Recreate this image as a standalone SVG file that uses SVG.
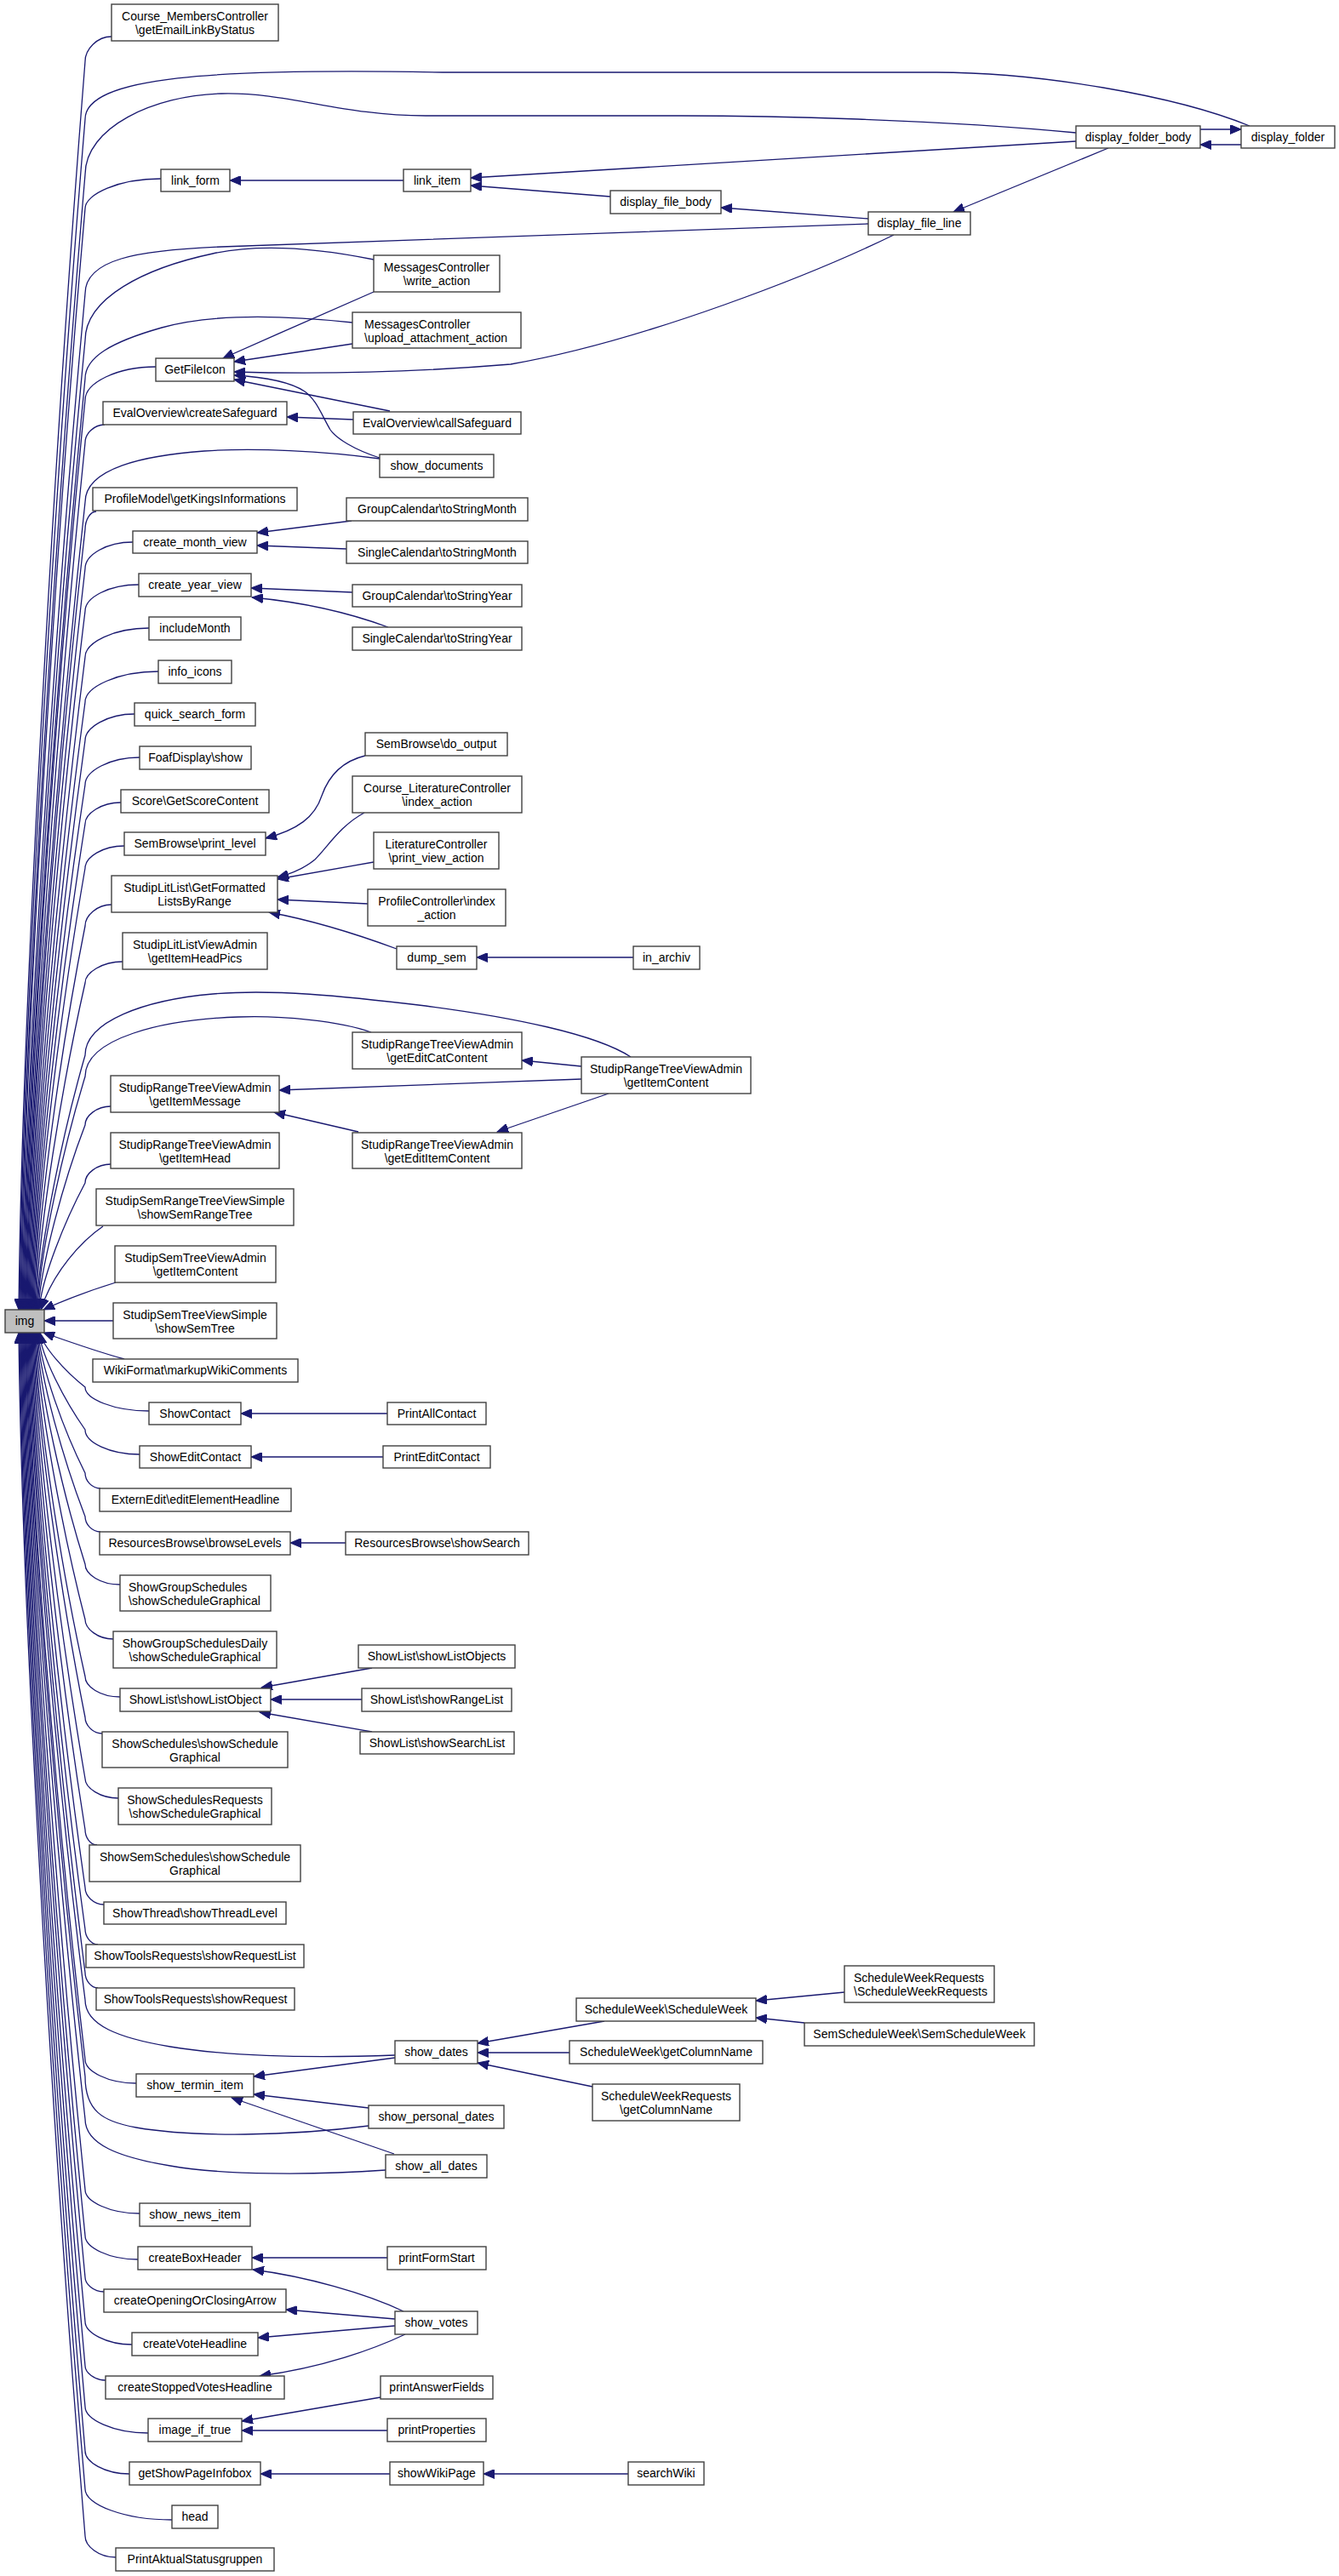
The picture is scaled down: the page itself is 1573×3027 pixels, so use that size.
<svg xmlns="http://www.w3.org/2000/svg" width="1573" height="3027" viewBox="0 0 1573 3027">
<style>
.node rect{fill:#ffffff;stroke:#404040;stroke-width:1.4}
.node text{font-family:"Liberation Sans",Arial,sans-serif;font-size:14px;fill:#000000;text-anchor:middle}
.node text.l{text-anchor:start}
#n_img rect{fill:#bfbfbf}
.edge path{fill:none;stroke:#191970;stroke-width:1.3;marker-end:url(#arr)}
</style>
<defs>
<marker id="arr" markerWidth="14" markerHeight="11" refX="13" refY="5.5" orient="auto" markerUnits="userSpaceOnUse"><path d="M0,0 L13,5.5 L0,11 z" fill="#191970" stroke="#191970" stroke-width="1"/></marker>
</defs>
<rect x="0" y="0" width="1573" height="3027" fill="#ffffff"/>
<g id="connectors" class="edge">
<path d="M131,43 C114,43 100,58 100,72 C65,512 26,1172 22,1539"/>
<path d="M1468,148 C1380,112 1220,85 1100,85 L520,85 C250,80 100,90 100,140 C65,560 27,1189 23,1539"/>
<path d="M1264,156 C1100,140 900,136 800,136 L500,136 C400,136 340,108 260,110 C180,112 100,150 100,205 C66,605 28,1205 24,1539"/>
<path d="M189,210 C140,210 100,228 100,245 C66,633 29,1215 25,1539"/>
<path d="M1020,263 L260,290 C160,294 100,305 100,345 C67,703 30,1241 26,1539"/>
<path d="M439,305 C380,293 310,285 250,298 C170,315 100,350 100,400 C67,742 31,1254 27,1539"/>
<path d="M414,379 C330,370 250,368 190,385 C130,402 100,420 100,445 C68,773 32,1265 28,1539"/>
<path d="M183,431 C137,431 100,450 100,470 C68,791 33,1272 29,1539"/>
<path d="M123,499 C110,499 100,510 100,520 C69,826 34,1284 30,1539"/>
<path d="M446,539 C380,530 300,526 240,530 C170,535 100,550 100,590 C69,875 34,1302 31,1539"/>
<path d="M113,601 C106,601 100,611 100,622 C69,897 35,1310 32,1539"/>
<path d="M156,637 C125,637 100,652 100,668 C70,929 36,1321 33,1539"/>
<path d="M163,687 C128,687 100,702 100,718 C70,964 37,1334 34,1539"/>
<path d="M175,738 C134,738 100,755 100,772 C71,1002 38,1347 35,1539"/>
<path d="M186,789 C139,789 100,807 100,825 C71,1039 39,1361 36,1539"/>
<path d="M158,839 C126,839 100,855 100,870 C72,1071 40,1372 37,1539"/>
<path d="M164,890 C129,890 100,906 100,922 C72,1107 41,1385 38,1539"/>
<path d="M142,943 C119,943 100,956 100,968 C73,1139 42,1396 39,1539"/>
<path d="M146,994 C121,994 100,1007 100,1020 C73,1176 43,1409 40,1539"/>
<path d="M131,1063 C114,1063 100,1076 100,1088 C73,1223 44,1426 41,1539"/>
<path d="M144,1130 C120,1130 100,1143 100,1155 C74,1270 45,1443 42,1539"/>
<path d="M741,1242 C700,1215 600,1195 500,1182 C400,1170 320,1162 250,1168 C170,1175 100,1200 100,1240 C74,1330 46,1464 43,1539"/>
<path d="M436,1213 C400,1200 330,1193 280,1195 C190,1198 100,1220 100,1265 C75,1347 47,1470 44,1539"/>
<path d="M130,1300 C114,1300 100,1311 100,1322 C75,1387 48,1485 45,1539"/>
<path d="M130,1368 C114,1368 100,1379 100,1390 C76,1435 49,1502 46,1539"/>
<path d="M121,1441 C96,1458 62,1495 48,1539"/>
<path d="M136,1507 C110,1515 75,1528 51,1539"/>
<path d="M133,1552 L52,1552"/>
<path d="M136,3005 C116,3005 100,2992 100,2980 C65,2556 26,1920 22,1566"/>
<path d="M202,2961 C146,2961 100,2943 100,2925 C65,2517 27,1906 23,1566"/>
<path d="M152,2907 C123,2907 100,2893 100,2880 C66,2486 28,1895 24,1566"/>
<path d="M174,2859 C133,2859 100,2843 100,2828 C66,2449 29,1882 25,1566"/>
<path d="M124,2797 C111,2797 100,2788 100,2780 C67,2416 30,1870 26,1566"/>
<path d="M155,2755 C125,2755 100,2741 100,2728 C67,2379 31,1857 27,1566"/>
<path d="M122,2693 C110,2693 100,2684 100,2676 C68,2343 32,1844 28,1566"/>
<path d="M162,2655 C128,2655 100,2641 100,2627 C68,2309 33,1831 29,1566"/>
<path d="M164,2601 C129,2601 100,2587 100,2573 C69,2271 34,1818 30,1566"/>
<path d="M453,2550 C370,2556 260,2556 200,2545 C140,2535 100,2520 100,2490 C69,2213 34,1797 31,1566"/>
<path d="M433,2498 C340,2510 230,2512 160,2500 C120,2493 100,2480 100,2440 C69,2178 35,1785 32,1566"/>
<path d="M160,2448 C127,2448 100,2434 100,2420 C70,2164 36,1780 33,1566"/>
<path d="M464,2415 C380,2418 280,2418 200,2405 C140,2395 100,2380 100,2350 C70,2115 37,1762 34,1566"/>
<path d="M115,2336 C107,2336 100,2327 100,2318 C71,2092 38,1754 35,1566"/>
<path d="M115,2285 C107,2285 100,2276 100,2267 C71,2057 39,1741 36,1566"/>
<path d="M122,2238 C110,2238 100,2228 100,2218 C72,2022 40,1729 37,1566"/>
<path d="M114,2168 C106,2168 100,2159 100,2150 C72,1975 41,1712 38,1566"/>
<path d="M139,2113 C118,2113 100,2101 100,2090 C73,1933 42,1697 39,1566"/>
<path d="M120,2037 C109,2037 100,2027 100,2018 C73,1882 43,1679 40,1566"/>
<path d="M141,1994 C118,1994 100,1982 100,1970 C73,1849 44,1667 41,1566"/>
<path d="M133,1926 C115,1926 100,1914 100,1903 C74,1802 45,1650 42,1566"/>
<path d="M141,1862 C118,1862 100,1850 100,1838 C74,1756 46,1634 43,1566"/>
<path d="M118,1800 C108,1800 100,1791 100,1782 C75,1717 47,1620 44,1566"/>
<path d="M118,1749 C108,1749 100,1740 100,1731 C75,1681 48,1607 45,1566"/>
<path d="M164,1709 C129,1709 100,1695 100,1680 C76,1646 49,1594 46,1566"/>
<path d="M175,1658 C134,1658 100,1644 100,1630 C76,1611 50,1582 47,1566"/>
<path d="M146,1597 C120,1590 85,1578 51,1566"/>
<path d="M1410,152 L1458,152"/>
<path d="M1458,170 L1410,170"/>
<path d="M1264,166 L553,209"/>
<path d="M717,231 L553,218"/>
<path d="M474,212 L270,212"/>
<path d="M1020,257 L847,244"/>
<path d="M1302,174 L1120,249"/>
<path d="M1050,276 C960,320 760,400 600,428 C480,438 380,440 275,437"/>
<path d="M439,343 C390,365 320,395 262,421"/>
<path d="M414,404 L275,425"/>
<path d="M458,483 L275,446"/>
<path d="M446,538 C415,528 395,515 388,505 C378,488 372,470 358,460 C340,448 310,443 275,441"/>
<path d="M415,493 L337,490"/>
<path d="M413,612 L302,626"/>
<path d="M407,645 L302,641"/>
<path d="M414,696 L295,691"/>
<path d="M456,737 C410,720 360,708 296,702"/>
<path d="M429,888 C400,895 385,915 378,935 C370,960 350,975 312,985"/>
<path d="M428,955 C400,970 385,995 370,1010 C358,1020 345,1026 326,1031"/>
<path d="M439,1013 L326,1033"/>
<path d="M432,1062 L326,1057"/>
<path d="M466,1115 C420,1098 370,1082 316,1072"/>
<path d="M744,1125 L560,1125"/>
<path d="M683,1253 L613,1246"/>
<path d="M683,1268 L328,1281"/>
<path d="M715,1285 L584,1330"/>
<path d="M421,1330 L322,1307"/>
<path d="M455,1661 L283,1661"/>
<path d="M450,1712 L295,1712"/>
<path d="M406,1813 L341,1813"/>
<path d="M437,1960 L307,1983"/>
<path d="M425,1997 L318,1997"/>
<path d="M437,2035 L305,2012"/>
<path d="M992,2341 L888,2351"/>
<path d="M945,2377 L888,2371"/>
<path d="M710,2375 L561,2401"/>
<path d="M669,2412 L561,2412"/>
<path d="M696,2452 L561,2424"/>
<path d="M464,2418 L298,2440"/>
<path d="M433,2477 L298,2461"/>
<path d="M463,2531 L272,2465"/>
<path d="M455,2653 L296,2653"/>
<path d="M474,2716 C430,2695 360,2675 297,2667"/>
<path d="M464,2725 L336,2714"/>
<path d="M464,2733 L303,2747"/>
<path d="M476,2743 C440,2760 380,2782 305,2792"/>
<path d="M447,2817 L284,2845"/>
<path d="M455,2856 L284,2856"/>
<path d="M458,2907 L306,2907"/>
<path d="M738,2907 L568,2907"/>
</g>
<g id="n_course_members" class="node"><rect x="131" y="5" width="196" height="43"/><text x="229" y="24">Course_MembersController</text><text x="229" y="40">\getEmailLinkByStatus</text></g>
<g id="n_display_folder_body" class="node"><rect x="1264" y="148" width="146" height="26"/><text x="1337" y="166">display_folder_body</text></g>
<g id="n_display_folder" class="node"><rect x="1458" y="148" width="110" height="26"/><text x="1513" y="166">display_folder</text></g>
<g id="n_link_form" class="node"><rect x="189" y="199" width="81" height="26"/><text x="229.5" y="217">link_form</text></g>
<g id="n_link_item" class="node"><rect x="474" y="199" width="79" height="26"/><text x="513.5" y="217">link_item</text></g>
<g id="n_display_file_body" class="node"><rect x="717" y="224" width="130" height="27"/><text x="782" y="242">display_file_body</text></g>
<g id="n_display_file_line" class="node"><rect x="1020" y="249" width="120" height="27"/><text x="1080" y="267">display_file_line</text></g>
<g id="n_write_action" class="node"><rect x="439" y="300" width="148" height="43"/><text x="513" y="319">MessagesController</text><text x="513" y="335">\write_action</text></g>
<g id="n_upload" class="node"><rect x="414" y="367" width="198" height="42"/><text class="l" x="428" y="386">MessagesController</text><text class="l" x="428" y="402">\upload_attachment_action</text></g>
<g id="n_getfileicon" class="node"><rect x="183" y="421" width="92" height="27"/><text x="229" y="439">GetFileIcon</text></g>
<g id="n_create_safeguard" class="node"><rect x="121" y="472" width="216" height="27"/><text x="229" y="490">EvalOverview\createSafeguard</text></g>
<g id="n_call_safeguard" class="node"><rect x="415" y="484" width="197" height="26"/><text x="513.5" y="502">EvalOverview\callSafeguard</text></g>
<g id="n_show_documents" class="node"><rect x="446" y="534" width="134" height="27"/><text x="513" y="552">show_documents</text></g>
<g id="n_profilemodel" class="node"><rect x="109" y="573" width="240" height="27"/><text x="229" y="591">ProfileModel\getKingsInformations</text></g>
<g id="n_gc_month" class="node"><rect x="407" y="585" width="213" height="27"/><text x="513.5" y="603">GroupCalendar\toStringMonth</text></g>
<g id="n_create_month" class="node"><rect x="156" y="624" width="146" height="26"/><text x="229" y="642">create_month_view</text></g>
<g id="n_sc_month" class="node"><rect x="407" y="636" width="213" height="26"/><text x="513.5" y="654">SingleCalendar\toStringMonth</text></g>
<g id="n_create_year" class="node"><rect x="163" y="674" width="132" height="27"/><text x="229" y="692">create_year_view</text></g>
<g id="n_gc_year" class="node"><rect x="414" y="687" width="199" height="26"/><text x="513.5" y="705">GroupCalendar\toStringYear</text></g>
<g id="n_includemonth" class="node"><rect x="175" y="725" width="108" height="27"/><text x="229" y="743">includeMonth</text></g>
<g id="n_sc_year" class="node"><rect x="414" y="737" width="199" height="27"/><text x="513.5" y="755">SingleCalendar\toStringYear</text></g>
<g id="n_info_icons" class="node"><rect x="186" y="776" width="86" height="27"/><text x="229" y="794">info_icons</text></g>
<g id="n_quick_search" class="node"><rect x="158" y="826" width="142" height="27"/><text x="229" y="844">quick_search_form</text></g>
<g id="n_do_output" class="node"><rect x="429" y="861" width="167" height="27"/><text x="512.5" y="879">SemBrowse\do_output</text></g>
<g id="n_foaf" class="node"><rect x="164" y="877" width="131" height="27"/><text x="229.5" y="895">FoafDisplay\show</text></g>
<g id="n_course_lit" class="node"><rect x="414" y="912" width="199" height="43"/><text x="513.5" y="931">Course_LiteratureController</text><text x="513.5" y="947">\index_action</text></g>
<g id="n_score" class="node"><rect x="142" y="928" width="174" height="27"/><text x="229" y="946">Score\GetScoreContent</text></g>
<g id="n_print_level" class="node"><rect x="146" y="978" width="166" height="27"/><text x="229" y="996">SemBrowse\print_level</text></g>
<g id="n_lit_print" class="node"><rect x="439" y="978" width="147" height="43"/><text x="512.5" y="997">LiteratureController</text><text x="512.5" y="1013">\print_view_action</text></g>
<g id="n_getformatted" class="node"><rect x="131" y="1029" width="195" height="43"/><text x="228.5" y="1048">StudipLitList\GetFormatted</text><text x="228.5" y="1064">ListsByRange</text></g>
<g id="n_profile_index" class="node"><rect x="432" y="1045" width="162" height="43"/><text x="513" y="1064">ProfileController\index</text><text x="513" y="1080">_action</text></g>
<g id="n_litlistviewadmin" class="node"><rect x="144" y="1096" width="170" height="43"/><text x="229" y="1115">StudipLitListViewAdmin</text><text x="229" y="1131">\getItemHeadPics</text></g>
<g id="n_dump_sem" class="node"><rect x="466" y="1112" width="94" height="27"/><text x="513" y="1130">dump_sem</text></g>
<g id="n_in_archiv" class="node"><rect x="744" y="1112" width="78" height="27"/><text x="783" y="1130">in_archiv</text></g>
<g id="n_edit_cat" class="node"><rect x="414" y="1213" width="199" height="43"/><text x="513.5" y="1232">StudipRangeTreeViewAdmin</text><text x="513.5" y="1248">\getEditCatContent</text></g>
<g id="n_range_item_content" class="node"><rect x="683" y="1242" width="199" height="43"/><text x="782.5" y="1261">StudipRangeTreeViewAdmin</text><text x="782.5" y="1277">\getItemContent</text></g>
<g id="n_item_message" class="node"><rect x="130" y="1264" width="198" height="43"/><text x="229" y="1283">StudipRangeTreeViewAdmin</text><text x="229" y="1299">\getItemMessage</text></g>
<g id="n_item_head" class="node"><rect x="130" y="1331" width="198" height="42"/><text x="229" y="1350">StudipRangeTreeViewAdmin</text><text x="229" y="1366">\getItemHead</text></g>
<g id="n_edit_item" class="node"><rect x="414" y="1331" width="199" height="42"/><text x="513.5" y="1350">StudipRangeTreeViewAdmin</text><text x="513.5" y="1366">\getEditItemContent</text></g>
<g id="n_semrange_simple" class="node"><rect x="113" y="1397" width="232" height="43"/><text x="229" y="1416">StudipSemRangeTreeViewSimple</text><text x="229" y="1432">\showSemRangeTree</text></g>
<g id="n_semtree_admin" class="node"><rect x="135" y="1464" width="189" height="43"/><text x="229.5" y="1483">StudipSemTreeViewAdmin</text><text x="229.5" y="1499">\getItemContent</text></g>
<g id="n_img" class="node"><rect x="6" y="1539" width="46" height="27"/><text x="29" y="1557">img</text></g>
<g id="n_semtree_simple" class="node"><rect x="133" y="1531" width="192" height="42"/><text x="229" y="1550">StudipSemTreeViewSimple</text><text x="229" y="1566">\showSemTree</text></g>
<g id="n_wiki" class="node"><rect x="109" y="1597" width="241" height="27"/><text x="229.5" y="1615">WikiFormat\markupWikiComments</text></g>
<g id="n_showcontact" class="node"><rect x="175" y="1648" width="108" height="26"/><text x="229" y="1666">ShowContact</text></g>
<g id="n_printall" class="node"><rect x="455" y="1648" width="116" height="26"/><text x="513" y="1666">PrintAllContact</text></g>
<g id="n_showedit" class="node"><rect x="164" y="1699" width="131" height="26"/><text x="229.5" y="1717">ShowEditContact</text></g>
<g id="n_printedit" class="node"><rect x="450" y="1699" width="126" height="26"/><text x="513" y="1717">PrintEditContact</text></g>
<g id="n_externedit" class="node"><rect x="117" y="1749" width="225" height="27"/><text x="229.5" y="1767">ExternEdit\editElementHeadline</text></g>
<g id="n_browselevels" class="node"><rect x="117" y="1800" width="224" height="27"/><text x="229" y="1818">ResourcesBrowse\browseLevels</text></g>
<g id="n_showsearch" class="node"><rect x="406" y="1800" width="215" height="27"/><text x="513.5" y="1818">ResourcesBrowse\showSearch</text></g>
<g id="n_groupsched" class="node"><rect x="141" y="1851" width="177" height="42"/><text class="l" x="151" y="1870">ShowGroupSchedules</text><text class="l" x="151" y="1886">\showScheduleGraphical</text></g>
<g id="n_groupsched_daily" class="node"><rect x="133" y="1917" width="192" height="43"/><text x="229" y="1936">ShowGroupSchedulesDaily</text><text x="229" y="1952">\showScheduleGraphical</text></g>
<g id="n_listobjects" class="node"><rect x="421" y="1933" width="184" height="27"/><text x="513" y="1951">ShowList\showListObjects</text></g>
<g id="n_listobject" class="node"><rect x="141" y="1984" width="177" height="27"/><text x="229.5" y="2002">ShowList\showListObject</text></g>
<g id="n_rangelist" class="node"><rect x="425" y="1984" width="176" height="27"/><text x="513" y="2002">ShowList\showRangeList</text></g>
<g id="n_searchlist" class="node"><rect x="423" y="2035" width="181" height="26"/><text x="513.5" y="2053">ShowList\showSearchList</text></g>
<g id="n_schedules" class="node"><rect x="120" y="2035" width="218" height="42"/><text x="229" y="2054">ShowSchedules\showSchedule</text><text x="229" y="2070">Graphical</text></g>
<g id="n_schedules_req" class="node"><rect x="139" y="2101" width="180" height="43"/><text x="229" y="2120">ShowSchedulesRequests</text><text x="229" y="2136">\showScheduleGraphical</text></g>
<g id="n_semschedules" class="node"><rect x="105" y="2168" width="248" height="43"/><text x="229" y="2187">ShowSemSchedules\showSchedule</text><text x="229" y="2203">Graphical</text></g>
<g id="n_thread" class="node"><rect x="122" y="2235" width="214" height="26"/><text x="229" y="2253">ShowThread\showThreadLevel</text></g>
<g id="n_requestlist" class="node"><rect x="101" y="2285" width="256" height="27"/><text x="229" y="2303">ShowToolsRequests\showRequestList</text></g>
<g id="n_request" class="node"><rect x="113" y="2336" width="233" height="26"/><text x="229.5" y="2354">ShowToolsRequests\showRequest</text></g>
<g id="n_swr_swr" class="node"><rect x="992" y="2310" width="176" height="43"/><text class="l" x="1003" y="2329">ScheduleWeekRequests</text><text class="l" x="1003" y="2345">\ScheduleWeekRequests</text></g>
<g id="n_sw_sw" class="node"><rect x="677" y="2348" width="211" height="27"/><text x="782.5" y="2366">ScheduleWeek\ScheduleWeek</text></g>
<g id="n_semsw" class="node"><rect x="945" y="2377" width="270" height="27"/><text x="1080" y="2395">SemScheduleWeek\SemScheduleWeek</text></g>
<g id="n_show_dates" class="node"><rect x="464" y="2398" width="97" height="27"/><text x="512.5" y="2416">show_dates</text></g>
<g id="n_sw_colname" class="node"><rect x="669" y="2398" width="227" height="27"/><text x="782.5" y="2416">ScheduleWeek\getColumnName</text></g>
<g id="n_show_termin" class="node"><rect x="160" y="2437" width="138" height="27"/><text x="229" y="2455">show_termin_item</text></g>
<g id="n_swr_colname" class="node"><rect x="696" y="2449" width="173" height="43"/><text x="782.5" y="2468">ScheduleWeekRequests</text><text x="782.5" y="2484">\getColumnName</text></g>
<g id="n_personal_dates" class="node"><rect x="433" y="2474" width="159" height="27"/><text x="512.5" y="2492">show_personal_dates</text></g>
<g id="n_all_dates" class="node"><rect x="453" y="2532" width="119" height="27"/><text x="512.5" y="2550">show_all_dates</text></g>
<g id="n_news_item" class="node"><rect x="164" y="2589" width="130" height="27"/><text x="229" y="2607">show_news_item</text></g>
<g id="n_boxheader" class="node"><rect x="162" y="2640" width="134" height="27"/><text x="229" y="2658">createBoxHeader</text></g>
<g id="n_formstart" class="node"><rect x="455" y="2640" width="116" height="27"/><text x="513" y="2658">printFormStart</text></g>
<g id="n_arrow" class="node"><rect x="122" y="2690" width="214" height="27"/><text x="229" y="2708">createOpeningOrClosingArrow</text></g>
<g id="n_show_votes" class="node"><rect x="464" y="2716" width="97" height="27"/><text x="512.5" y="2734">show_votes</text></g>
<g id="n_vote_headline" class="node"><rect x="155" y="2741" width="148" height="27"/><text x="229" y="2759">createVoteHeadline</text></g>
<g id="n_stopped" class="node"><rect x="124" y="2792" width="210" height="27"/><text x="229" y="2810">createStoppedVotesHeadline</text></g>
<g id="n_answerfields" class="node"><rect x="447" y="2792" width="132" height="27"/><text x="513" y="2810">printAnswerFields</text></g>
<g id="n_image_if_true" class="node"><rect x="174" y="2842" width="110" height="27"/><text x="229" y="2860">image_if_true</text></g>
<g id="n_properties" class="node"><rect x="455" y="2842" width="116" height="27"/><text x="513" y="2860">printProperties</text></g>
<g id="n_infobox" class="node"><rect x="152" y="2893" width="154" height="27"/><text x="229" y="2911">getShowPageInfobox</text></g>
<g id="n_wikipage" class="node"><rect x="458" y="2893" width="110" height="27"/><text x="513" y="2911">showWikiPage</text></g>
<g id="n_searchwiki" class="node"><rect x="738" y="2893" width="89" height="27"/><text x="782.5" y="2911">searchWiki</text></g>
<g id="n_head" class="node"><rect x="202" y="2944" width="54" height="27"/><text x="229" y="2962">head</text></g>
<g id="n_statusgruppen" class="node"><rect x="136" y="2994" width="186" height="27"/><text x="229" y="3012">PrintAktualStatusgruppen</text></g>
</svg>
